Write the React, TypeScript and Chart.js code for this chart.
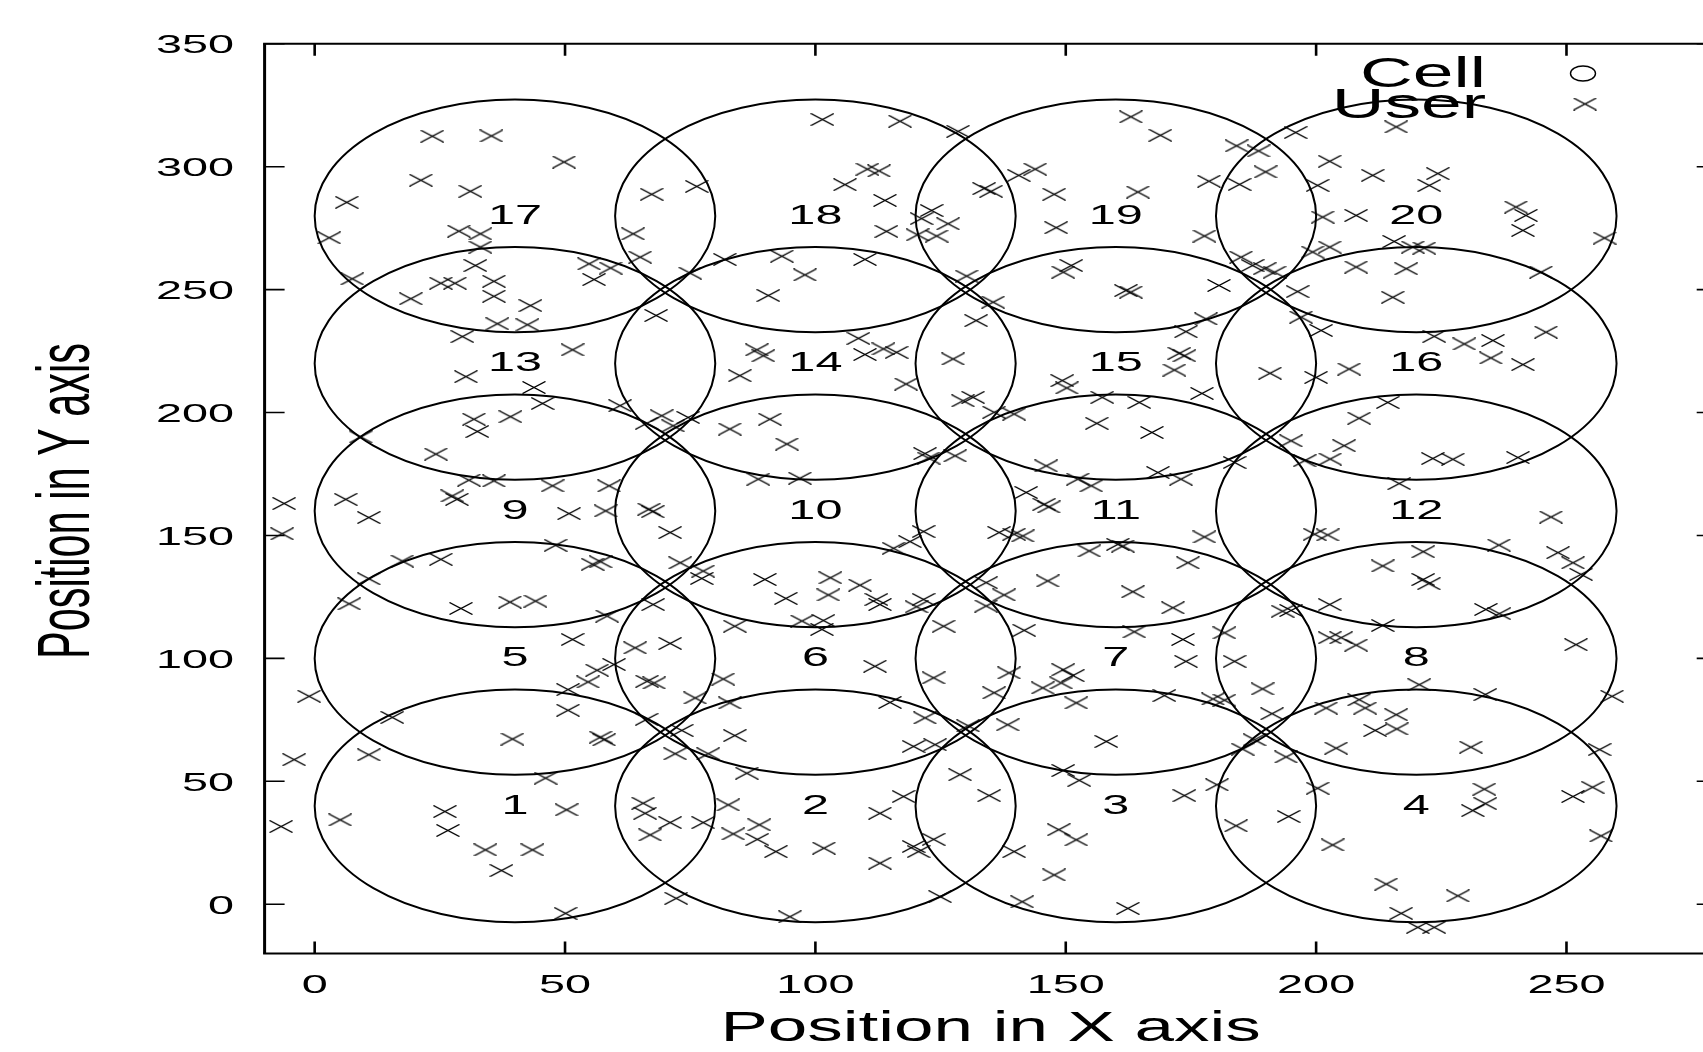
import React, { useEffect, useRef } from "react";
import { Chart, registerables } from "chart.js";

Chart.register(...registerables);

// ---- data ----
const xTicks = [0, 50, 100, 150, 200, 250];
const yTicks = [0, 50, 100, 150, 200, 250, 300, 350];
const xMin = -10;
const xMax = 280;
const yMin = -20;
const yMax = 350;

const cellCentersX = [40, 100, 160, 220];
const cellCentersY = [40, 100, 160, 220, 280];
const cellLabels = [
  "1", "2", "3", "4",
  "5", "6", "7", "8",
  "9", "10", "11", "12",
  "13", "14", "15", "16",
  "17", "18", "19", "20",
];
const cellRadiusX = 40;
const cellRadiusY = 47.3;

const userX = [
  23.5, 35.3, 49.8, 21.2, 31.1, 6.4, 2.9, 28.8, 33.1, 33.1, 32.1, 7.5, 25.2, 28.0, 35.8, 19.2, 35.8, 43.1, 36.5, 42.5, 29.5, 54.8, 59.1, 55.8,
  101.4, 116.9, 128.5, 110.4, 112.7, 105.9, 113.9, 67.3, 76.3, 123.2, 121.2, 126.5, 114.2, 120.4, 124.2, 63.6, 65.0, 81.9, 93.3, 97.9, 109.9, 75.0, 90.6, 68.2, 130.2, 132.1, 108.6,
  133.7, 135.1, 163.0, 168.9, 184.1, 188.5, 195.9, 202.7, 189.9, 178.6, 184.7, 200.3, 140.6, 143.9, 147.7, 164.4, 148.1, 177.7, 201.3, 199.3, 202.7, 185.0, 187.3, 189.7, 191.7, 151.1, 149.5, 162.0, 163.0, 180.6, 196.3, 135.5, 178.0, 174.0, 197.0, 201.0,
  216.0, 211.3, 224.3, 222.6, 208.0, 239.9, 241.9, 241.3, 257.6, 215.6, 219.3, 221.6, 208.0, 218.0, 215.3, 244.9, 245.9, 223.6, 235.3, 229.6,
  51.5, 30.2, 43.8, 45.5, 31.8, 32.5, 39.1, 24.2, 9.2, 61.0, 30.8, 35.8, 47.5, 58.8, 6.2, 10.8, 27.5, 28.4, 50.8, 58.1, -6.1, -6.5, 17.5, 25.2, 10.8, 48.1, 55.5, 57.1, 6.9, 29.2, 39.0, 44.1, 58.4, 51.5,
  88.3, 89.6, 109.9, 113.6, 116.2, 127.5, 84.9, 118.1, 129.5, 131.5, 69.3, 74.6, 66.3, 71.6, 82.9, 90.9, 94.3, 121.9, 122.6, 127.9, 88.6, 96.9, 66.8, 67.5, 71.0, 73.0, 77.6, 77.3, 121.6, 118.9, 115.6, 89.9, 103.0, 108.9, 94.1, 102.6, 112.2, 112.9, 121.6, 120.2, 67.6, 83.9, 97.3, 101.6, 101.3, 125.6, 64.0, 71.0,
  172.7, 173.7, 171.7, 190.8, 200.0, 149.3, 150.2, 157.3, 164.7, 177.2, 139.7, 135.7, 156.2, 167.2, 146.1, 152.4, 155.1, 168.4, 173.0, 183.7, 142.1, 145.7, 146.6, 195.0, 197.7, 202.8, 136.7, 139.7, 141.4, 154.7, 160.4, 161.4, 177.7, 174.4, 199.7, 202.3, 146.4, 163.4, 171.4, 134.1, 137.7, 134.1, 141.7, 163.7, 173.4, 181.7, 193.3, 195.0, 202.7, 202.7,
  206.6, 234.9, 241.3, 214.3, 208.6, 205.6, 223.3, 227.3, 240.3, 216.6, 246.9, 236.5, 221.4, 213.3, 221.4, 222.5, 248.3, 251.3, 252.9, 233.9, 236.6, 213.3, 208.0, 205.0, 251.9,
  -1.1, 15.5, -4.1, 10.8, 39.5, 50.6, 54.6, 56.4, 59.8, 50.6, 57.1, 57.8, 46.1, 50.3, -6.7, 5.1, 26.0, 26.6, 34.1, 43.5, 37.3, 50.1,
  111.9, 123.6, 66.4, 67.8, 81.6, 76.0, 82.9, 66.3, 114.9, 121.9, 83.9, 73.3, 72.0, 78.6, 86.3, 119.6, 123.9, 128.9, 130.5, 65.6, 66.0, 71.0, 67.0, 77.6, 82.6, 83.6, 88.8, 88.4, 92.1, 101.7, 117.6, 112.9, 112.9, 119.6, 120.6, 123.6, 72.2, 94.9, 124.9,
  138.7, 149.5, 151.4, 145.4, 149.1, 135.7, 152.1, 174.0, 183.7, 169.7, 179.4, 181.7, 189.3, 191.2, 138.4, 158.1, 187.7, 185.3, 194.0, 202.0, 149.5, 152.7, 173.7, 180.2, 134.7, 200.3, 148.6, 152.1, 184.0, 194.5, 139.7, 147.7, 141.3, 162.4, 203.3, 204.0,
  220.6, 233.8, 208.6, 209.8, 216.0, 211.8, 216.1, 230.9, 259.1, 256.6, 233.6, 233.8, 231.3, 251.3, 255.2, 256.9, 214.0, 228.3, 217.0, 220.3, 223.6,
];

const userY = [
  312.4, 312.5, 301.9, 294.5, 290.0, 285.5, 271.1, 273.8, 272.7, 267.3, 259.8, 254.4, 252.6, 252.6, 253.4, 246.3, 247.3, 243.5, 236.1, 235.7, 230.9, 260.5, 258.8, 254.1,
  319.2, 318.5, 314.4, 299.0, 298.3, 292.7, 286.3, 288.8, 292.0, 282.2, 278.9, 276.8, 273.7, 272.3, 271.8, 272.7, 263.2, 262.3, 263.6, 256.0, 262.3, 256.7, 247.6, 239.5, 255.5, 237.4, 230.2,
  291.1, 290.0, 320.3, 312.8, 308.5, 306.4, 313.9, 302.2, 297.9, 294.1, 292.8, 292.4, 296.5, 299.0, 288.8, 289.7, 275.2, 271.8, 279.5, 265.3, 267.3, 263.2, 259.8, 258.5, 257.1, 259.8, 257.1, 249.6, 249.0, 251.7, 249.2, 244.9, 238.1, 232.9, 238.8, 233.4,
  316.2, 296.5, 297.2, 292.4, 280.2, 283.6, 280.2, 274.1, 271.0, 269.6, 267.3, 266.9, 259.2, 258.5, 246.9, 257.1, 232.7, 231.0, 229.3, 227.9,
  225.5, 214.6, 210.2, 203.7, 197.3, 192.3, 198.3, 183.1, 190.1, 202.8, 172.5, 172.2, 170.2, 170.2, 164.7, 157.3, 166.1, 164.7, 158.9, 160.0, 163.0, 150.7, 139.6, 140.3, 132.4, 146.0, 138.3, 139.3, 122.2, 120.3, 122.9, 123.3, 117.2, 107.7,
  225.5, 223.1, 223.6, 225.9, 224.5, 221.8, 215.0, 211.6, 204.8, 206.2, 198.7, 198.0, 195.6, 194.6, 193.3, 197.3, 187.2, 183.3, 181.5, 182.4, 172.9, 173.3, 160.7, 159.7, 151.2, 138.9, 135.5, 132.5, 151.6, 147.5, 144.8, 132.1, 132.8, 129.8, 124.4, 125.8, 124.0, 121.9, 124.0, 121.0, 121.9, 113.1, 115.2, 115.4, 111.8, 113.1, 104.3, 106.1,
  224.1, 223.1, 217.3, 216.0, 214.3, 213.0, 210.0, 206.2, 204.1, 207.8, 199.4, 200.1, 195.6, 191.9, 178.3, 172.9, 170.2, 175.6, 172.9, 179.7, 167.5, 162.7, 161.6, 188.5, 180.4, 181.1, 151.2, 150.5, 149.8, 143.7, 146.4, 145.7, 149.4, 138.9, 150.5, 150.2, 131.5, 127.1, 120.6, 130.8, 125.8, 121.3, 111.4, 110.8, 107.7, 110.4, 119.2, 119.5, 121.9, 108.4,
  217.7, 222.2, 219.5, 204.1, 197.7, 186.5, 181.3, 181.0, 181.7, 171.1, 157.5, 146.1, 143.4, 137.6, 132.1, 130.4, 143.0, 138.9, 134.2, 119.9, 118.2, 113.4, 105.4, 108.4, 105.6,
  84.6, 76.0, 58.8, 60.8, 67.2, 87.3, 90.4, 95.2, 97.5, 78.9, 68.0, 66.9, 51.3, 38.4, 31.6, 34.3, 37.7, 30.0, 22.1, 22.1, 13.7, -3.7,
  96.8, 92.1, 90.7, 90.0, 91.6, 83.9, 81.9, 75.2, 82.1, 75.8, 68.6, 70.7, 61.2, 61.2, 53.3, 64.2, 64.9, 52.7, 72.6, 41.1, 37.0, 33.2, 28.2, 33.2, 40.4, 28.6, 32.3, 26.4, 21.4, 22.8, 43.8, 37.0, 16.7, 23.5, 21.4, 26.4, 2.4, -5.1, 3.1,
  94.1, 95.4, 93.0, 88.0, 90.0, 86.0, 81.9, 98.8, 98.8, 84.9, 83.5, 83.0, 87.6, 77.5, 73.0, 66.2, 66.9, 63.1, 59.9, 79.8, 54.4, 50.4, 44.2, 48.6, 44.2, 47.2, 30.3, 26.2, 31.9, 35.7, 21.4, 11.9, 1.0, -1.7, 24.1, 63.5,
  89.3, 85.3, 83.2, 79.8, 77.1, 70.7, 71.3, 63.9, 84.6, 62.9, 46.8, 40.9, 38.1, 43.8, 47.6, 27.8, 8.2, 3.4, -3.7, -9.4, -9.4,
];

const legendLabels = ["Cell", "User"];
const xTitle = "Position in X axis";
const yTitle = "Position in Y axis";

// ---- layout / style constants ----
const CANVAS_W = 1730;
const CANVAS_H = 1052;
const AREA_LEFT = 264.6;
const AREA_RIGHT = 1716.7;
const AREA_TOP = 43.8;
const AREA_BOTTOM = 953.4;
const FONT = '"Liberation Sans", Arial, Helvetica, sans-serif';
const STRETCH = 1.8;

function stretchedText(
  ctx: CanvasRenderingContext2D,
  text: string,
  x: number,
  y: number,
  size: number,
  sx: number,
  align: CanvasTextAlign
) {
  ctx.save();
  ctx.translate(x, y);
  ctx.scale(sx, 1);
  ctx.font = `${size}px ${FONT}`;
  ctx.textAlign = align;
  ctx.textBaseline = "alphabetic";
  ctx.fillStyle = "#000";
  ctx.fillText(text, 0, 0);
  ctx.restore();
}

function makeCross(): HTMLCanvasElement {
  const c = document.createElement("canvas");
  c.width = 24;
  c.height = 13;
  const g = c.getContext("2d")!;
  g.strokeStyle = "#000";
  g.lineWidth = 1.4;
  g.beginPath();
  g.moveTo(0.5, 0.5);
  g.lineTo(23.5, 12.5);
  g.moveTo(0.5, 12.5);
  g.lineTo(23.5, 0.5);
  g.stroke();
  return c;
}

export default function App() {
  const canvasRef = useRef<HTMLCanvasElement | null>(null);

  useEffect(() => {
    const canvas = canvasRef.current;
    if (!canvas) return;
    const cross = makeCross();

    const cellsPlugin = {
      id: "cells",
      beforeDatasetsDraw(chart: any) {
        const { ctx, chartArea } = chart;
        const xs = chart.scales.x;
        const ys = chart.scales.y;
        ctx.save();
        ctx.beginPath();
        ctx.rect(chartArea.left, chartArea.top, chartArea.right - chartArea.left, chartArea.bottom - chartArea.top);
        ctx.clip();
        ctx.strokeStyle = "#000";
        ctx.lineWidth = 2;
        cellCentersY.forEach((cy) => {
          cellCentersX.forEach((cx) => {
            const px = xs.getPixelForValue(cx);
            const py = ys.getPixelForValue(cy);
            const rx = Math.abs(xs.getPixelForValue(cx + cellRadiusX) - px);
            const ry = Math.abs(ys.getPixelForValue(cy + cellRadiusY) - py);
            ctx.beginPath();
            ctx.ellipse(px, py, rx, ry, 0, 0, Math.PI * 2);
            ctx.stroke();
          });
        });
        ctx.restore();
      },
    };

    const decorPlugin = {
      id: "decor",
      afterDraw(chart: any) {
        const { ctx, chartArea } = chart;
        const xs = chart.scales.x;
        const ys = chart.scales.y;
        const { left, right, top, bottom } = chartArea;

        // cell labels
        cellCentersY.forEach((cy, r) => {
          cellCentersX.forEach((cx, c) => {
            const label = cellLabels[r * cellCentersX.length + c];
            stretchedText(ctx, label, xs.getPixelForValue(cx), ys.getPixelForValue(cy) + 8, 27, STRETCH, "center");
          });
        });

        ctx.save();
        ctx.strokeStyle = "#000";
        // frame
        ctx.lineWidth = 3;
        ctx.beginPath();
        ctx.moveTo(left, top);
        ctx.lineTo(left, bottom);
        ctx.moveTo(right, top);
        ctx.lineTo(right, bottom);
        ctx.stroke();
        ctx.lineWidth = 2;
        ctx.beginPath();
        ctx.moveTo(left - 1.5, top);
        ctx.lineTo(right + 1.5, top);
        ctx.moveTo(left - 1.5, bottom);
        ctx.lineTo(right + 1.5, bottom);
        ctx.stroke();

        // x ticks (inward, bottom and top)
        ctx.lineWidth = 2.6;
        ctx.beginPath();
        xTicks.forEach((t) => {
          const px = xs.getPixelForValue(t);
          ctx.moveTo(px, bottom);
          ctx.lineTo(px, bottom - 12);
          ctx.moveTo(px, top);
          ctx.lineTo(px, top + 12);
        });
        ctx.stroke();
        // y ticks (inward, left and right)
        ctx.lineWidth = 1.6;
        ctx.beginPath();
        yTicks.forEach((t) => {
          const py = ys.getPixelForValue(t);
          ctx.moveTo(left, py);
          ctx.lineTo(left + 20, py);
          ctx.moveTo(right, py);
          ctx.lineTo(right - 20, py);
        });
        ctx.stroke();
        ctx.restore();

        // tick labels
        xTicks.forEach((t) => {
          stretchedText(ctx, String(t), xs.getPixelForValue(t), 993, 26, STRETCH, "center");
        });
        yTicks.forEach((t) => {
          stretchedText(ctx, String(t), 234, ys.getPixelForValue(t) + 9.5, 26, STRETCH, "right");
        });

        // legend
        stretchedText(ctx, legendLabels[0], 1486, 86.7, 43, 1.7, "right");
        stretchedText(ctx, legendLabels[1], 1486, 118.3, 43, 1.7, "right");
        ctx.save();
        ctx.strokeStyle = "#000";
        ctx.lineWidth = 1.4;
        ctx.beginPath();
        ctx.ellipse(1583, 73.5, 12.5, 7.5, 0, 0, Math.PI * 2);
        ctx.stroke();
        ctx.drawImage(cross, 1585 - cross.width / 2, 104 - cross.height / 2);
        ctx.restore();

        // axis titles
        stretchedText(ctx, xTitle, (left + right) / 2, 1040.5, 43, 1.65, "center");
        ctx.save();
        ctx.translate(89, 501);
        ctx.rotate(-Math.PI / 2);
        ctx.scale(1, 1.77);
        ctx.font = `41.5px ${FONT}`;
        ctx.textAlign = "center";
        ctx.textBaseline = "alphabetic";
        ctx.fillStyle = "#000";
        ctx.fillText(yTitle, 0, 0);
        ctx.restore();
      },
    };

    const points = userX.map((x, i) => ({ x, y: userY[i] }));

    const chart = new Chart(canvas, {
      type: "scatter",
      data: {
        datasets: [
          {
            label: legendLabels[1],
            data: points,
            pointStyle: cross as any,
            pointRadius: 6,
            pointHoverRadius: 6,
            showLine: false,
          },
        ],
      },
      options: {
        responsive: false,
        animation: false,
        devicePixelRatio: 1,
        events: [],
        layout: {
          padding: { left: 0, top: AREA_TOP, right: CANVAS_W - AREA_RIGHT, bottom: 0 },
        },
        plugins: {
          legend: { display: false },
          tooltip: { enabled: false },
          title: { display: false },
        },
        scales: {
          x: {
            type: "linear",
            min: xMin,
            max: xMax,
            grid: { display: false },
            border: { display: false },
            ticks: { display: false },
            afterBuildTicks: (s: any) => {
              s.ticks = xTicks.map((v) => ({ value: v }));
            },
            afterFit: (s: any) => {
              s.height = CANVAS_H - AREA_BOTTOM;
            },
          },
          y: {
            type: "linear",
            min: yMin,
            max: yMax,
            grid: { display: false },
            border: { display: false },
            ticks: { display: false },
            afterBuildTicks: (s: any) => {
              s.ticks = yTicks.map((v) => ({ value: v }));
            },
            afterFit: (s: any) => {
              s.width = AREA_LEFT;
            },
          },
        },
      } as any,
      plugins: [cellsPlugin, decorPlugin],
    });

    return () => chart.destroy();
  }, []);

  return (
    <div
      style={{
        position: "fixed",
        left: 0,
        top: 0,
        width: 1703,
        height: 1052,
        overflow: "hidden",
        background: "#fff",
      }}
    >
      <canvas
        ref={canvasRef}
        width={CANVAS_W}
        height={CANVAS_H}
        style={{ display: "block", width: CANVAS_W, height: CANVAS_H }}
      />
    </div>
  );
}
